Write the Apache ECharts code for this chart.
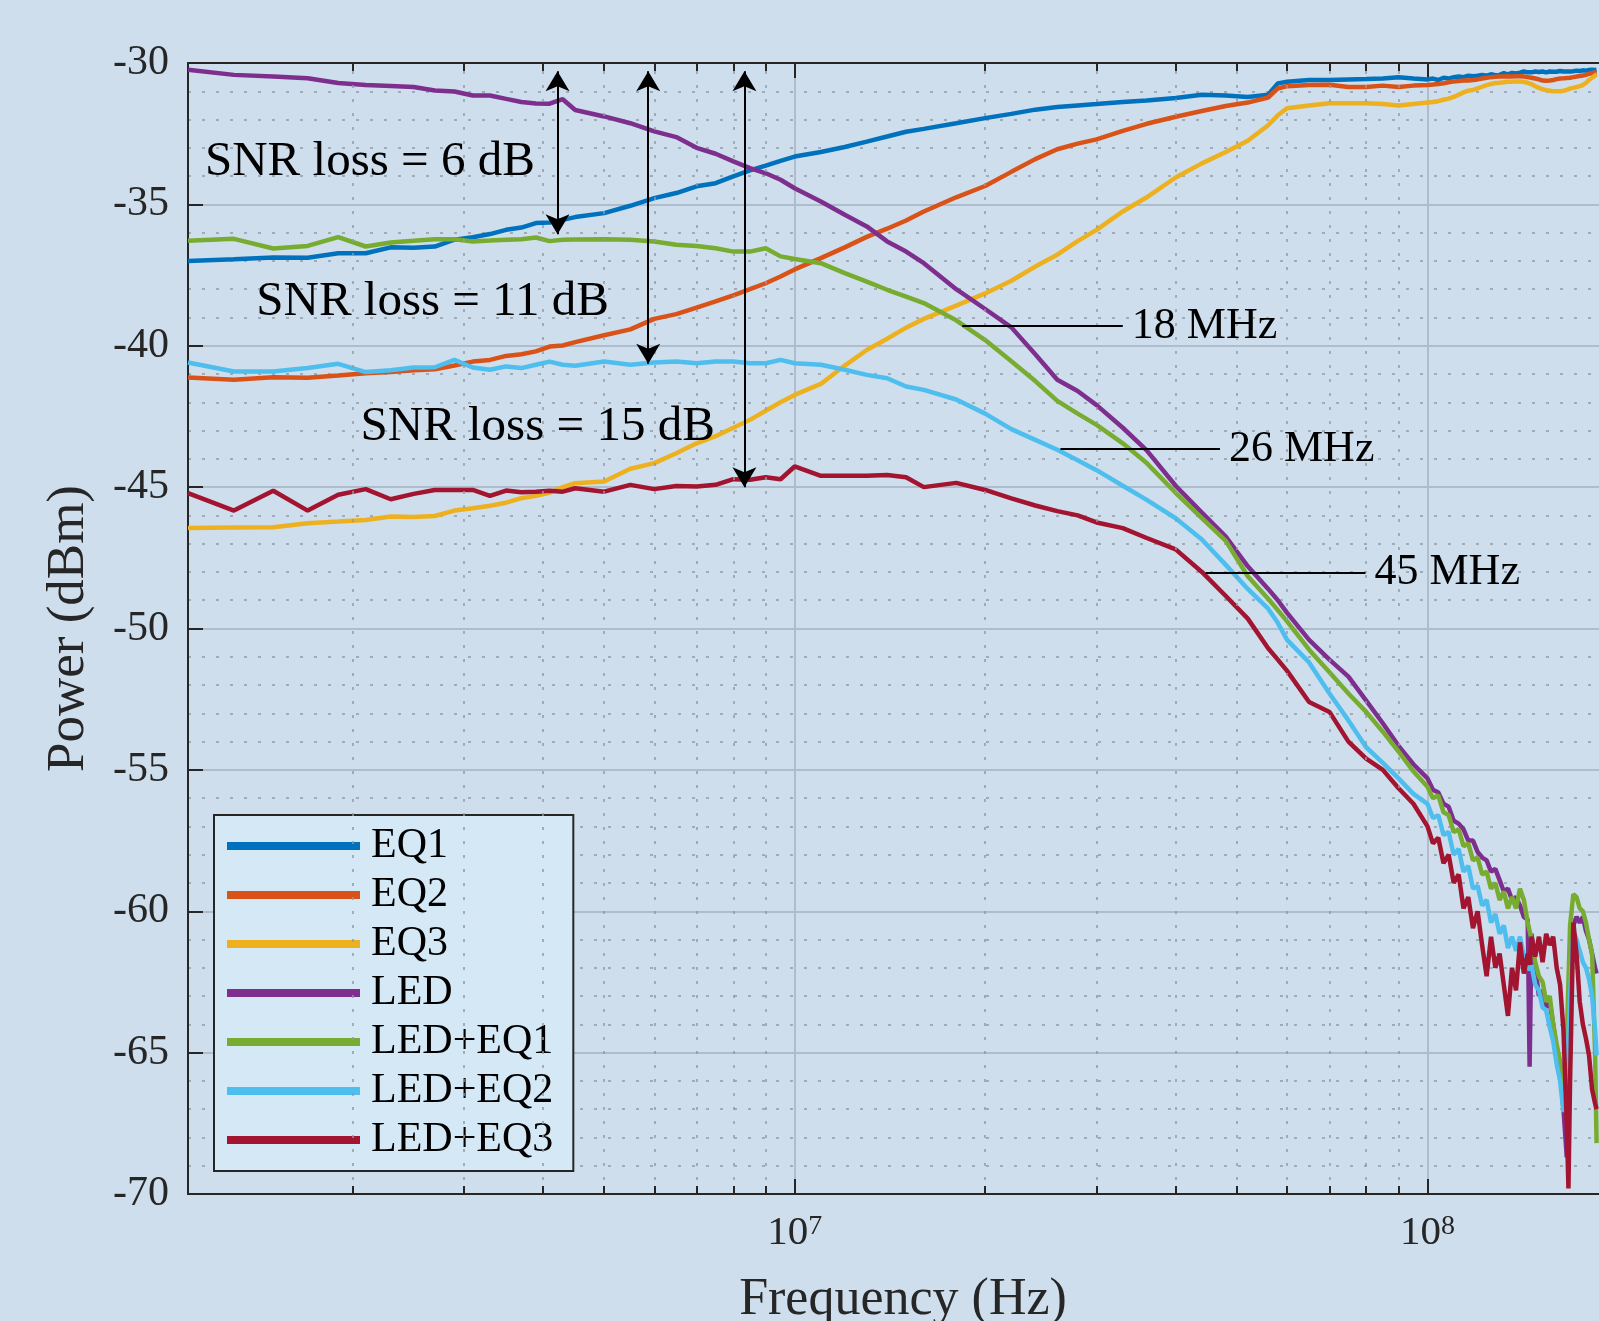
<!DOCTYPE html>
<html>
<head>
<meta charset="utf-8">
<script src="https://cdn.jsdelivr.net/npm/echarts@6/dist/echarts.min.js"></script>
<style>
  html, body { margin: 0; padding: 0; background: #cedeed; overflow: hidden; }
  #chart { width: 1599px; height: 1321px; }
</style>
</head>
<body>
<div id="chart"></div>
<script>
// frequency grid in MHz, values in dBm
const freqMHz = [
  1.1, 1.3, 1.5, 1.7, 1.9, 2.1, 2.3, 2.5, 2.7, 2.9,
  3.1, 3.3, 3.5, 3.7, 3.9, 4.1, 4.3, 4.5, 5, 5.5,
  6, 6.5, 7, 7.5, 8, 8.5, 9, 9.5, 10, 11,
  12, 13, 14, 15, 16, 18, 20, 22, 24, 26,
  28, 30, 33, 36, 40, 44, 48, 52, 56, 58,
  60, 65, 70, 75, 80, 85, 90, 95,
  100, 102, 104, 106, 108, 110, 112, 114, 116, 118,
  120, 122, 124, 126, 128, 130, 132, 134, 136, 138,
  140, 142, 144, 145, 146, 148, 150, 152, 154, 156,
  158, 160, 162, 164, 166, 167, 168, 170, 172, 174,
  176, 178, 180, 182, 184, 185
];

const eq1 = [
  -37.0, -36.94, -36.88, -36.89, -36.73, -36.73, -36.52, -36.53, -36.49, -36.25,
  -36.16, -36.05, -35.9, -35.82, -35.66, -35.64, -35.55, -35.45, -35.31, -35.05,
  -34.78, -34.6, -34.36, -34.25, -34.01, -33.8, -33.63, -33.46, -33.31, -33.15,
  -32.97, -32.78, -32.6, -32.43, -32.33, -32.13, -31.95, -31.8, -31.65, -31.56,
  -31.5, -31.45, -31.38, -31.33, -31.24, -31.12, -31.15, -31.2, -31.12, -30.72,
  -30.66, -30.6, -30.6, -30.58, -30.57, -30.55, -30.5, -30.55,
  -30.58, -30.55, -30.6, -30.52, -30.55, -30.5, -30.48, -30.5, -30.45, -30.47,
  -30.45, -30.42, -30.45, -30.4, -30.43, -30.42, -30.36, -30.4, -30.35, -30.37,
  -30.34, -30.3, -30.33, -30.35, -30.33, -30.3, -30.32, -30.3, -30.33, -30.3,
  -30.31, -30.31, -30.28, -30.3, -30.3, -30.29, -30.3, -30.29, -30.27, -30.28,
  -30.26, -30.27, -30.25, -30.24, -30.25, -30.24
];

const eq2 = [
  -41.12, -41.2, -41.11, -41.13, -41.05, -40.97, -40.93, -40.87, -40.83, -40.7,
  -40.56, -40.5, -40.36, -40.3, -40.2, -40.03, -39.99, -39.87, -39.63, -39.42,
  -39.05, -38.88, -38.65, -38.43, -38.22, -38.0, -37.79, -37.55, -37.3, -36.9,
  -36.52, -36.15, -35.86, -35.57, -35.25, -34.75, -34.35, -33.85, -33.4, -33.05,
  -32.85, -32.7, -32.4, -32.15, -31.9, -31.7, -31.52, -31.4, -31.22, -30.9,
  -30.82, -30.78, -30.77, -30.85, -30.85, -30.8, -30.85, -30.8,
  -30.78, -30.76, -30.74, -30.72, -30.68, -30.65, -30.64, -30.62, -30.62, -30.6,
  -30.58, -30.55, -30.52, -30.5, -30.49, -30.48, -30.48, -30.47, -30.48, -30.47,
  -30.47, -30.48, -30.5, -30.5, -30.52, -30.55, -30.58, -30.62, -30.63, -30.62,
  -30.6, -30.57, -30.55, -30.54, -30.53, -30.52, -30.52, -30.5, -30.48, -30.46,
  -30.44, -30.42, -30.38, -30.36, -30.33, -30.32
];

const eq3 = [
  -46.45, -46.43, -46.42, -46.28, -46.22, -46.16, -46.04, -46.06, -46.02, -45.83,
  -45.75, -45.66, -45.55, -45.39, -45.31, -45.2, -45.0, -44.86, -44.8, -44.35,
  -44.15, -43.8, -43.45, -43.2, -42.9, -42.62, -42.3, -42.0, -41.74, -41.35,
  -40.7, -40.15, -39.75, -39.36, -39.05, -38.58, -38.15, -37.7, -37.2, -36.78,
  -36.3, -35.9, -35.25, -34.75, -34.05, -33.55, -33.15, -32.75, -32.2, -31.85,
  -31.6, -31.5, -31.42, -31.42, -31.42, -31.45, -31.5, -31.45,
  -31.4, -31.38, -31.35, -31.3, -31.26, -31.2, -31.12, -31.04, -30.98, -30.95,
  -30.9, -30.84, -30.78, -30.74, -30.71, -30.7, -30.68, -30.66, -30.66, -30.65,
  -30.65, -30.67, -30.7, -30.72, -30.75, -30.82, -30.88, -30.93, -30.96, -30.98,
  -31.0, -31.0, -31.0, -30.98, -30.95, -30.93, -30.9, -30.88, -30.85, -30.82,
  -30.78, -30.7, -30.6, -30.52, -30.44, -30.4
];

const led = [
  -30.24, -30.42, -30.48, -30.54, -30.71, -30.78, -30.81, -30.85, -30.97, -31.01,
  -31.15, -31.15, -31.27, -31.38, -31.43, -31.44, -31.28, -31.66, -31.89, -32.13,
  -32.42, -32.62, -33.0, -33.21, -33.48, -33.72, -33.9, -34.13, -34.43, -34.9,
  -35.37, -35.78, -36.31, -36.67, -37.08, -38.0, -38.7, -39.35, -40.3, -41.2,
  -41.6, -42.1, -42.9, -43.7, -44.95, -45.9, -46.75, -47.8, -48.6, -49.0,
  -49.45, -50.4, -51.1, -51.7, -52.55, -53.35, -54.15, -54.8,
  -55.3, -55.7, -55.8, -56.2, -56.3, -56.8, -56.9, -57.1, -57.5, -57.5,
  -57.9, -58.1, -58.2, -58.6, -58.5, -58.9, -59.3, -59.2, -59.6, -59.5,
  -59.8, -60.2, -60.3, -65.5, -60.8, -62.0, -63.0, -62.8, -63.4, -63.2,
  -64.0, -64.9, -65.5, -67.0, -68.7, -67.0, -63.0, -60.5, -60.2, -60.4,
  -60.2, -60.7, -61.0, -61.5, -62.0, -62.2
];

const ledEq1 = [
  -36.29, -36.22, -36.56, -36.47, -36.16, -36.49, -36.35, -36.29, -36.23, -36.23,
  -36.31, -36.28, -36.25, -36.23, -36.17, -36.3, -36.25, -36.24, -36.23, -36.25,
  -36.31, -36.43, -36.47, -36.55, -36.67, -36.67, -36.55, -36.84, -36.93, -37.08,
  -37.43, -37.73, -38.02, -38.26, -38.49, -39.1, -39.8, -40.55, -41.25, -41.95,
  -42.4, -42.8, -43.45, -44.15, -45.2, -46.1, -46.9, -48.15, -48.95, -49.35,
  -49.75, -50.75, -51.55, -52.3, -52.95, -53.65, -54.35, -55.05,
  -55.6, -56.0, -55.9, -56.5, -56.6, -57.2, -57.1, -57.7, -57.6, -58.2,
  -58.1, -58.7, -58.6, -59.2, -59.0, -59.6, -59.3, -59.9, -59.5, -59.9,
  -59.2, -59.6, -60.4, -60.7, -61.0, -61.8, -62.3, -62.5, -63.2, -63.0,
  -64.0, -64.7, -65.3, -66.2, -64.5, -62.5, -60.5, -59.4, -59.5, -59.9,
  -60.0, -60.4, -61.0, -61.5, -65.0, -68.2
];

const ledEq2 = [
  -40.59, -40.91, -40.91, -40.79, -40.64, -40.93, -40.87, -40.77, -40.76, -40.5,
  -40.77, -40.85, -40.73, -40.79, -40.67, -40.56, -40.67, -40.71, -40.56, -40.67,
  -40.59, -40.56, -40.62, -40.56, -40.56, -40.62, -40.62, -40.5, -40.62, -40.67,
  -40.85, -41.03, -41.15, -41.44, -41.56, -41.9, -42.4, -42.95, -43.33, -43.68,
  -44.05, -44.4, -44.95, -45.45, -46.1, -46.85, -47.75, -48.6, -49.3, -49.8,
  -50.4, -51.2, -52.3, -53.25, -54.2, -54.75, -55.3, -55.85,
  -56.2, -56.7, -56.6, -57.3, -57.2, -58.0, -57.8, -58.6, -58.4, -59.2,
  -59.1, -59.8, -59.6, -60.4, -60.1, -60.8, -60.5, -61.3, -60.9, -61.4,
  -60.9, -61.6, -61.8, -62.1, -61.9, -62.6, -62.8, -63.4, -63.5, -64.1,
  -64.6, -65.4, -66.0, -67.1, -66.0, -64.5, -63.0, -60.7, -61.0, -61.4,
  -61.8, -62.0, -62.4, -63.0, -64.2, -65.1
];

const ledEq3 = [
  -45.21, -45.83, -45.13, -45.83, -45.27, -45.07, -45.43, -45.24, -45.1, -45.1,
  -45.1, -45.31, -45.12, -45.18, -45.16, -45.13, -45.16, -45.04, -45.16, -44.92,
  -45.07, -44.96, -44.98, -44.92, -44.72, -44.74, -44.65, -44.72, -44.27, -44.6,
  -44.6, -44.6, -44.57, -44.65, -45.0, -44.85, -45.1, -45.4, -45.65, -45.85,
  -46.0, -46.25, -46.45, -46.8, -47.2, -48.0, -48.85, -49.65, -50.7, -51.1,
  -51.5, -52.6, -52.95, -54.0, -54.6, -55.0, -55.65, -56.2,
  -57.0, -57.6, -57.4, -58.3, -58.0, -59.0, -58.7, -59.9, -59.5, -60.6,
  -60.0, -61.2, -62.3, -60.9, -62.0, -61.5, -62.6, -63.7, -62.0, -62.8,
  -61.1, -62.2, -61.5, -61.9, -60.9, -61.6, -60.9, -61.8, -60.8, -61.2,
  -60.9, -62.0, -62.6, -64.2, -67.5, -69.8, -66.0, -60.4, -61.5, -63.2,
  -64.0, -64.5, -65.1, -66.3, -66.8, -67.0
];

const seriesNames = ['EQ1', 'EQ2', 'EQ3', 'LED', 'LED+EQ1', 'LED+EQ2', 'LED+EQ3'];
const seriesValues = [eq1, eq2, eq3, led, ledEq1, ledEq2, ledEq3];
const seriesColors = ['#0072BD', '#D95319', '#EDB120', '#7E2F8E', '#77AC30', '#4DBEEE', '#A2142F'];

// minor decades for the log axis grid
const minorFreqs = [2e6, 3e6, 4e6, 5e6, 6e6, 7e6, 8e6, 9e6, 2e7, 3e7, 4e7, 5e7, 6e7, 7e7, 8e7, 9e7];

// SNR arrows (Hz, dBm at the two tips) and their captions
const arrowFreqs = [4.22e6, 5.87e6, 8.33e6];
const arrowTop = [-30.29, -30.29, -30.29];
const arrowBottom = [-36.06, -40.64, -45.0];
const snrTexts = ['SNR loss = 6 dB', 'SNR loss = 11 dB', 'SNR loss = 15 dB'];
const snrFreqs = [1.17e6, 1.41e6, 2.06e6];
const snrLevels = [-33.5, -38.45, -42.87];

// bandwidth leader lines
const bwTexts = ['18 MHz', '26 MHz', '45 MHz'];
const bwStart = [18.4e6, 26.3e6, 44.6e6];
const bwEnd = [33e6, 47e6, 79.8e6];
const bwLevels = [-39.3, -43.65, -48.03];

const FONT = "'Liberation Serif', 'DejaVu Serif', serif";
const INK = '#262626';

const chart = echarts.init(document.getElementById('chart'));

const dataSeries = seriesNames.map((name, k) => ({
  name: name,
  type: 'line',
  z: 3,
  showSymbol: false,
  symbol: 'none',
  lineStyle: { width: 4.5, color: seriesColors[k] },
  itemStyle: { color: seriesColors[k] },
  data: freqMHz.map((f, i) => [f * 1e6, seriesValues[k][i]])
}));

const minorGrid = {
  name: 'minor-grid',
  type: 'line',
  z: 1,
  data: [],
  silent: true,
  markLine: {
    silent: true,
    symbol: 'none',
    label: { show: false },
    lineStyle: { color: '#8e9aa6', width: 1.5, type: [3, 11] },
    data: minorFreqs.map(f => ({ xAxis: f }))
  }
};

const minorTicks = {
  name: 'minor-ticks',
  type: 'line',
  z: 4,
  data: [],
  silent: true,
  markLine: {
    silent: true,
    symbol: 'none',
    label: { show: false },
    lineStyle: { color: INK, width: 2, type: 'solid' },
    data: minorFreqs.flatMap(f => [
      [{ coord: [f, -70] }, { coord: [f, -69.72] }],
      [{ coord: [f, -30] }, { coord: [f, -30.28] }]
    ])
  }
};

const notes = {
  name: 'notes',
  type: 'line',
  z: 10,
  data: [],
  silent: true,
  markLine: {
    silent: true,
    symbol: 'none',
    lineStyle: { color: '#000', width: 2, type: 'solid' },
    label: { show: false },
    data: [
      ...arrowFreqs.map((f, i) => [
        { coord: [f, arrowTop[i]], symbol: 'arrow', symbolSize: [18, 20] },
        { coord: [f, arrowBottom[i]], symbol: 'arrow', symbolSize: [18, 20] }
      ]),
      ...bwTexts.map((t, i) => [
        {
          name: t,
          coord: [bwStart[i], bwLevels[i]],
          label: {
            show: true, position: 'end', distance: 9, formatter: '{b}',
            fontFamily: FONT, fontSize: 44, color: '#000'
          }
        },
        { coord: [bwEnd[i], bwLevels[i]] }
      ])
    ]
  },
  markPoint: {
    silent: true,
    symbol: 'circle',
    symbolSize: 0,
    label: {
      show: true, position: 'right', distance: 0, formatter: '{b}',
      fontFamily: FONT, fontSize: 49, color: '#000'
    },
    data: snrTexts.map((t, i) => ({ name: t, coord: [snrFreqs[i], snrLevels[i]] }))
  }
};

const option = {
  animation: false,
  backgroundColor: '#cedeed',
  grid: { left: 188, top: 63, right: -19, bottom: 127, containLabel: false, outerBoundsMode: 'none' },
  legend: {
    data: seriesNames,
    orient: 'vertical',
    left: 214,
    top: 815,
    icon: 'rect',
    itemWidth: 133,
    itemHeight: 8,
    itemGap: 7,
    padding: [10, 20, 10, 13],
    backgroundColor: '#d4e8f6',
    borderColor: INK,
    borderWidth: 2,
    borderRadius: 0,
    selectedMode: false,
    textStyle: { fontFamily: FONT, fontSize: 42, color: '#000', padding: [0, 0, 0, 6] }
  },
  xAxis: [
    {
      type: 'log',
      logBase: 10,
      min: 1.1e6,
      max: 2e8,
      position: 'bottom',
      name: 'Frequency (Hz)',
      nameLocation: 'middle',
      nameGap: 80,
      nameTextStyle: { fontFamily: FONT, fontSize: 52, color: INK },
      axisLine: { show: true, lineStyle: { color: INK, width: 2 } },
      axisTick: { show: true, inside: true, length: 15, lineStyle: { color: INK, width: 2 } },
      axisLabel: {
        margin: 19,
        formatter: v => {
          const e = Math.log10(v);
          if (Math.abs(e - Math.round(e)) > 1e-6) return '';
          return '{b|10}{e|' + Math.round(e) + '}';
        },
        rich: {
          b: { fontFamily: FONT, fontSize: 41, color: INK },
          e: { fontFamily: FONT, fontSize: 28, color: INK, verticalAlign: 'top' }
        }
      },
      splitLine: { show: true, lineStyle: { color: '#aebccb', width: 2 } }
    },
    {
      type: 'log',
      logBase: 10,
      min: 1.1e6,
      max: 2e8,
      position: 'top',
      axisLine: { show: true, lineStyle: { color: INK, width: 2 } },
      axisTick: { show: true, inside: true, length: 15, lineStyle: { color: INK, width: 2 } },
      axisLabel: { show: false },
      splitLine: { show: false }
    }
  ],
  yAxis: {
    type: 'value',
    min: -70,
    max: -30,
    interval: 5,
    name: 'Power (dBm)',
    nameLocation: 'middle',
    nameGap: 92,
    nameTextStyle: { fontFamily: FONT, fontSize: 53, color: INK },
    axisLine: { show: true, lineStyle: { color: INK, width: 2 } },
    axisTick: { show: true, inside: true, length: 15, lineStyle: { color: INK, width: 2 } },
    axisLabel: { margin: 19, fontFamily: FONT, fontSize: 42, color: INK },
    splitLine: { show: true, lineStyle: { color: '#aebccb', width: 2 } },
    minorTick: { show: false, splitNumber: 5 },
    minorSplitLine: { show: true, lineStyle: { color: '#8e9aa6', width: 1.5, type: [3, 11] } }
  },
  series: [minorGrid, ...dataSeries, minorTicks, notes]
};

chart.setOption(option);
</script>
</body>
</html>
